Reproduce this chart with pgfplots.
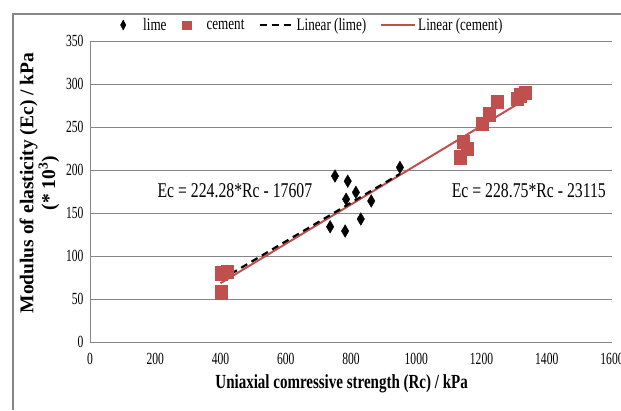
\documentclass[border=0pt]{standalone}
\usepackage{pgfplots}
\pgfplotsset{compat=1.18}
\usepackage{fontspec}
\setmainfont[FakeStretch=0.75]{Liberation Serif}
\newfontfamily\ylabfont{Liberation Serif}
\newfontfamily\tickfont[FakeStretch=0.68]{Liberation Serif}
\definecolor{gridc}{RGB}{134,134,134}
\definecolor{cemred}{RGB}{192,80,77}
\pgfplotsset{
  longline/.style={legend image code/.code={\draw[##1] (0pt,0pt) -- (34pt,0pt);}},
  markimg/.style={legend image code/.code={\path[draw=none,fill=none] (0pt,0pt) -- (24pt,0pt); \draw[##1] plot[only marks] coordinates {(6pt,0pt)};}},
}
\begin{document}
\begin{tikzpicture}[x=1pt,y=1pt]
\useasboundingbox (0,0) rectangle (621,410);
\draw[gridc, line width=1.2pt] (13,0) -- (13,396) -- (625,396);
\begin{axis}[
  at={(90pt,68pt)}, anchor=south west,
  scale only axis, width=522pt, height=301pt,
  xmin=0, xmax=1600, ymin=0, ymax=350,
  xtick={0,200,...,1600}, ytick={0,50,...,350},
  axis x line*=bottom, axis y line*=left,
  axis line style={draw=gridc, line width=0.8pt, -},
  ymajorgrids, grid style={draw=gridc, line width=0.8pt},
  tick style={draw=none},
  /pgf/number format/assume math mode=true,
  /pgf/number format/1000 sep={},
  tick label style={font=\tickfont\fontsize{17}{17}\selectfont},
  xticklabel style={yshift=-8pt},
  yticklabel style={xshift=-3pt},
  xlabel={\textbf{Uniaxial comressive strength (Rc) / kPa}},
  xlabel style={at={(axis description cs:0.482,-0.1395)}, anchor=center, font=\fontsize{20}{20}\selectfont},
  ylabel={\ylabfont\bfseries Modulus of elasticity (Ec) / kPa\\\ylabfont\bfseries (* 10\textsuperscript{3})},
  ylabel style={at={(axis description cs:-0.097,0.528)}, anchor=center, rotate=0, align=center, font=\fontsize{19.5}{13}\selectfont},
  legend style={draw=none, fill=none, at={(axis description cs:0.046,1.053)}, anchor=west,
    legend columns=4, font=\fontsize{17.5}{17.5}\selectfont,
    /tikz/every even column/.append style={column sep=12pt}},
  legend cell align=left,
]
% legend images
\addlegendimage{only marks, mark=diamond*, black, mark size=4.5pt, mark options={xscale=0.8,yscale=1.1}, markimg}
\addlegendentry{lime}
\addlegendimage{only marks, mark=square*, cemred, mark size=4.2pt, markimg}
\addlegendentry{cement}
\addlegendimage{black, line width=2.2pt, dash pattern=on 7pt off 5pt, longline}
\addlegendentry{Linear (lime)}
\addlegendimage{cemred, line width=2pt, longline}
\addlegendentry{Linear (cement)}
% lime data
\addplot[forget plot, only marks, mark=diamond*, black, mark size=5.5pt, mark options={xscale=0.9,yscale=1.15}]
coordinates {(400,79) (418,82) (751,193) (790,187) (815,174) (785,166) (862,164) (736,134) (782,129) (830,143) (950,203)};
% cement data
\addplot[forget plot, only marks, mark=square*, cemred, mark size=6pt, mark options={yscale=1.1}]
coordinates {(401,80) (419,82) (401,58) (1144,233) (1155,225) (1136,215) (1201,254) (1224,265) (1248,279) (1308,283) (1320,287) (1333,290)};
% trendlines (from the printed equations, y in 10^3 kPa)
\addplot[forget plot, cemred, line width=2pt] coordinates {(400,68.4) (1333,281.8)};
\addplot[forget plot, black, line width=2.2pt, dash pattern=on 7pt off 5pt] coordinates {(400,72.1) (950,195.5)};
\node[font=\fontsize{21}{21}\selectfont] at (axis cs:444,175.6) {Ec = 224.28*Rc - 17607};
\node[font=\fontsize{21}{21}\selectfont] at (axis cs:1345,176) {Ec = 228.75*Rc - 23115};
\end{axis}
\end{tikzpicture}
\end{document}
